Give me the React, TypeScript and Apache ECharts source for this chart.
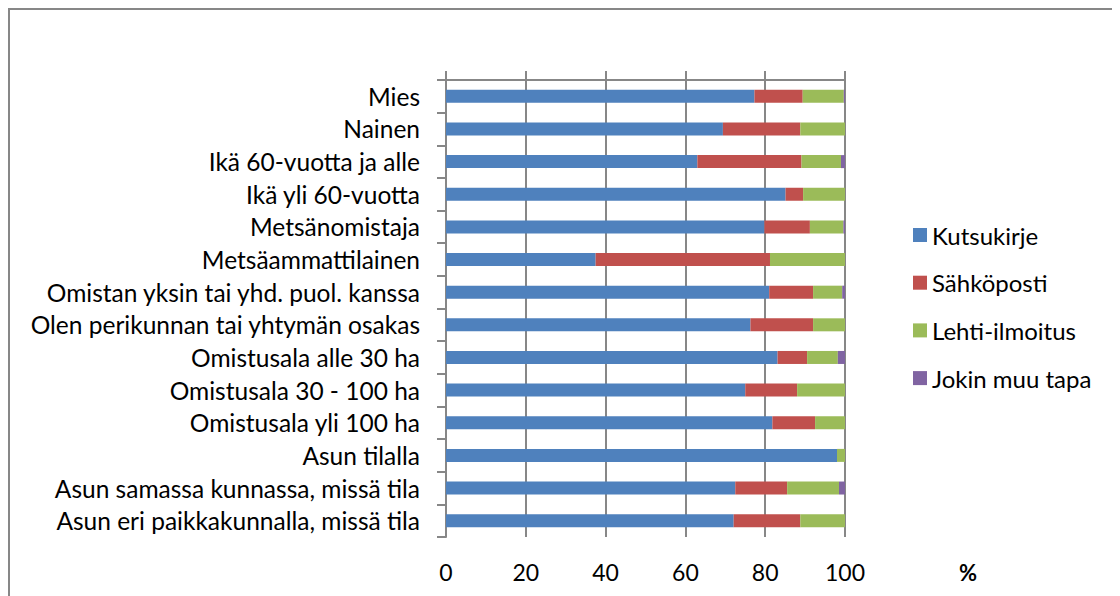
import React, { useEffect, useRef } from "react";
import * as echarts from "echarts";

const categories = [
  "Mies",
  "Nainen",
  "Ikä 60-vuotta ja alle",
  "Ikä yli 60-vuotta",
  "Metsänomistaja",
  "Metsäammattilainen",
  "Omistan yksin tai yhd. puol. kanssa",
  "Olen perikunnan tai yhtymän osakas",
  "Omistusala alle 30 ha",
  "Omistusala 30 - 100 ha",
  "Omistusala yli 100 ha",
  "Asun tilalla",
  "Asun samassa kunnassa, missä tila",
  "Asun eri paikkakunnalla, missä tila",
];

const kutsukirje = [77.3, 69.4, 63.0, 85.1, 79.8, 37.5, 81.0, 76.3, 83.1, 75.0, 81.8, 98.0, 72.5, 72.1];
const sahkoposti = [12.1, 19.4, 26.1, 4.4, 11.4, 43.7, 11.0, 15.7, 7.4, 13.0, 10.7, 0, 13.0, 16.7];
const lehtiIlmoitus = [10.3, 11.2, 9.9, 10.5, 8.4, 18.8, 7.3, 8.0, 7.7, 12.0, 7.5, 2.0, 13.0, 11.2];
const jokinMuu = [0.3, 0, 1.0, 0, 0.4, 0, 0.7, 0, 1.8, 0, 0, 0, 1.5, 0];

const seriesNames = ["Kutsukirje", "Sähköposti", "Lehti-ilmoitus", "Jokin muu tapa"];
const seriesData = [kutsukirje, sahkoposti, lehtiIlmoitus, jokinMuu];
const colors = ["#4F81BD", "#C0504D", "#9BBB59", "#8064A2"];
const xTicks = [0, 20, 40, 60, 80, 100];

const FONT = "Lato, 'Open Sans', sans-serif";
const GRAY = "#878787";

export default function App() {
  const ref = useRef<HTMLDivElement>(null);
  useEffect(() => {
    if (!ref.current) return;
    const chart = echarts.init(ref.current, undefined, { renderer: "svg" });
    chart.setOption({
      animation: false,
      backgroundColor: "#ffffff",
      textStyle: { fontFamily: FONT },
      graphic: [
        {
          type: "rect",
          shape: { x: 1, y: 1, width: 1130, height: 620 },
          style: { fill: "none", stroke: GRAY, lineWidth: 2 },
          silent: true,
        },
        {
          type: "text",
          left: 951,
          top: 553,
          style: { text: "%", font: "bold 22px " + FONT, fill: "#000" },
        },
      ],
      legend: {
        orient: "vertical",
        left: 900,
        top: 210,
        itemWidth: 14,
        itemHeight: 14,
        itemGap: 23.7,
        icon: "rect",
        data: seriesNames,
        textStyle: { fontSize: 24, color: "#000", fontFamily: FONT },
      },
      grid: { left: 438, top: 72, width: 399, height: 457, containLabel: false },
      xAxis: [
        {
          type: "value",
          position: "bottom",
          min: 0,
          max: 100,
          interval: 20,
          axisLine: { show: false },
          axisTick: { show: false },
          splitLine: { show: true, lineStyle: { color: GRAY, width: 2 } },
          axisLabel: {
            fontSize: 23,
            color: "#000",
            margin: 23,
            fontFamily: FONT,
            formatter: (v: number) => (xTicks.includes(v) ? String(v) : ""),
          },
        },
        {
          type: "value",
          position: "top",
          min: 0,
          max: 100,
          interval: 20,
          axisLine: { show: true, lineStyle: { color: GRAY, width: 2 } },
          axisTick: { show: true, length: 9, lineStyle: { color: GRAY, width: 2 } },
          splitLine: { show: false },
          axisLabel: { show: false },
        },
      ],
      yAxis: {
        type: "category",
        inverse: true,
        data: categories,
        axisLine: { show: true, lineStyle: { color: GRAY, width: 2 } },
        axisTick: { show: true, length: 9, lineStyle: { color: GRAY, width: 2 } },
        axisLabel: { fontSize: 24.5, color: "#000", margin: 26, fontFamily: FONT },
      },
      series: seriesNames.map((name, i) => ({
        name,
        type: "bar",
        stack: "total",
        xAxisIndex: 0,
        barWidth: 13,
        data: seriesData[i],
        itemStyle: { color: colors[i] },
      })),
    });
    return () => chart.dispose();
  }, []);
  return <div ref={ref} style={{ width: 1112, height: 590 }} />;
}
